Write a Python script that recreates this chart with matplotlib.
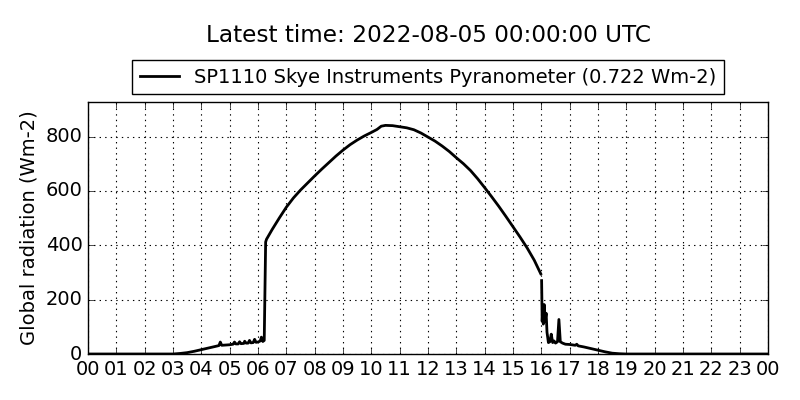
import numpy as np
import matplotlib
matplotlib.use("Agg")
import matplotlib.pyplot as plt

plt.style.use("classic")

# time in hours (UTC), radiation in Wm-2
hours = [0.0, 3.0, 3.25, 3.5, 3.75, 4.0, 4.25, 4.5, 4.62, 4.67, 4.72, 5.0, 5.12, 5.17, 5.22,
         5.3, 5.35, 5.4, 5.5, 5.53, 5.58, 5.65, 5.7, 5.75, 5.83, 5.88, 5.93, 6.0, 6.08, 6.12,
         6.17, 6.22, 6.27, 6.3, 6.5, 6.75, 7.0, 7.25, 7.5, 7.75, 8.0, 8.25, 8.5, 8.75, 9.0,
         9.25, 9.5, 9.75, 10.0, 10.2, 10.35, 10.5, 10.75, 11.0, 11.25, 11.5, 11.75, 12.0,
         12.25, 12.5, 12.75, 13.0, 13.25, 13.5, 13.75, 14.0, 14.25, 14.5, 14.75, 15.0, 15.25,
         15.5, 15.75, 15.98, 15.99, 16.01, 16.03, 16.05, 16.07, 16.1, 16.13, 16.17, 16.2,
         16.25, 16.3, 16.35, 16.4, 16.45, 16.5, 16.57, 16.62, 16.67, 16.75, 16.85, 17.0,
         17.2, 17.25, 17.3, 17.5, 17.75, 18.0, 18.25, 18.5, 18.75, 19.0, 24.0]
radiation = [0, 0, 2, 5, 10, 16, 22, 28, 31, 44, 32, 34, 36, 44, 37,
             37, 45, 38, 39, 47, 40, 40, 50, 41, 42, 54, 43, 44, 48, 62,
             46, 50, 412, 422, 458, 500, 540, 574, 603, 629, 655, 680, 704, 728, 750,
             770, 787, 802, 815, 826, 838, 841, 840, 836, 832, 825, 813, 798,
             783, 765, 745, 722, 700, 675, 645, 612, 578, 543, 506, 468, 430,
             390, 345, 295, np.nan, 270, 120, 170, 110, 182, 120, 150, 80,
             42, 45, 73, 42, 48, 40, 45, 127, 45, 40, 36, 35,
             32, 36, 30, 26, 20, 14, 8, 3, 1, 0, 0]

tick_hours = list(range(0, 25))
tick_labels = ["%02d" % (h % 24) for h in tick_hours]

fig = plt.figure(figsize=(8, 4), dpi=100, facecolor="white")
ax = fig.add_axes([0.11, 0.115, 0.85, 0.63])
ax.plot(hours, radiation, color="black", linewidth=2,
        label="SP1110 Skye Instruments Pyranometer (0.722 Wm-2)")
ax.set_xlim(0, 24)
ax.set_ylim(0, 927)
ax.set_xticks(tick_hours)
ax.set_xticklabels(tick_labels)
ax.set_yticks([0, 200, 400, 600, 800])
ax.tick_params(labelsize=14)
ax.grid(True, color="black", linestyle=":", linewidth=0.8)
ax.set_ylabel("Global radiation (Wm-2)", fontsize=14)
leg = ax.legend(loc="lower center", bbox_to_anchor=(0.5, 1.03), fontsize=14,
                frameon=True, fancybox=False, numpoints=1, borderaxespad=0,
                handlelength=2.0)
fig.text(0.535, 0.91, "Latest time: 2022-08-05 00:00:00 UTC", ha="center",
         va="center", fontsize=16.7)
fig.savefig("out.png", dpi=100, facecolor="white")
